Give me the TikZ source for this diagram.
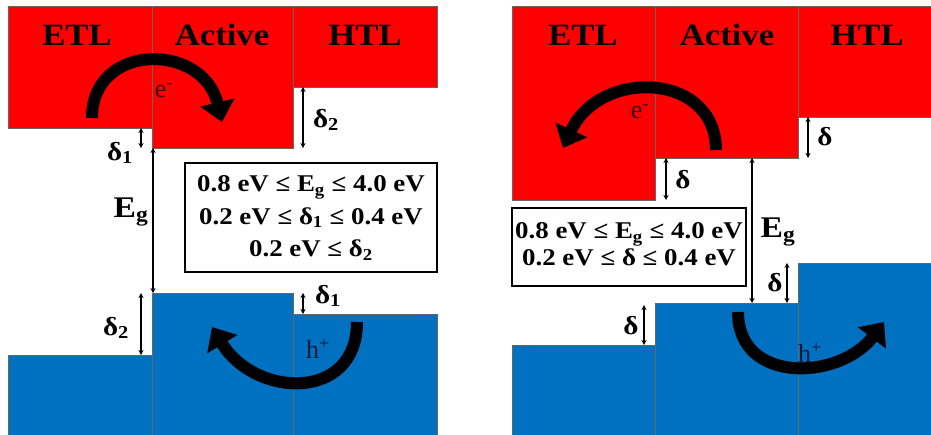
\documentclass[tikz,border=0pt]{standalone}
\usepackage{fontspec}
\setmainfont{Liberation Serif}
\usetikzlibrary{arrows.meta}
\definecolor{cbred}{RGB}{255,0,0}
\definecolor{cbblue}{RGB}{0,112,192}
\definecolor{etxt}{RGB}{50,0,0}
\definecolor{htxt}{RGB}{15,25,60}
\tikzset{
  redband/.style={fill=cbred, draw=black!60, line width=0.6pt},
  blueband/.style={fill=cbblue, draw=black!60, line width=0.6pt},
  layerlbl/.style={font=\fontsize{31}{31}\selectfont\bfseries, inner sep=0pt},
  dlbl/.style={font=\fontsize{26}{26}\selectfont\bfseries, inner sep=0pt},
  eglbl/.style={font=\fontsize{30}{30}\selectfont\bfseries, inner sep=0pt},
  carrier/.style={font=\fontsize{26}{26}\selectfont, inner sep=0pt},
  gap/.style={line width=1.2pt, {Stealth[length=5pt,width=5pt]}-{Stealth[length=5pt,width=5pt]}},
  bigarrow/.style={line width=12pt, -{Triangle[length=20pt,width=34pt]}},
  condbox/.style={draw, line width=1.6pt, fill=white, inner sep=0pt,
    font=\fontsize{24}{32.5}\selectfont\bfseries}
}
\newcommand{\hs}[1]{\scalebox{1.12}[1]{#1}}
\begin{document}
\begin{tikzpicture}[x=1pt,y=-1pt]
\useasboundingbox (0,0) rectangle (931,434);
\fill[white] (0,0) rectangle (931,434);

% ---------------- left panel ----------------
\draw[redband] (8,6) rectangle (152,128);
\draw[redband] (152,6) rectangle (293,148);
\draw[redband] (293,6) rectangle (437,87);
\draw[blueband] (8,355) rectangle (152,440);
\draw[blueband] (152,293) rectangle (293,440);
\draw[blueband] (293,314) rectangle (437,440);

\node[layerlbl] (lETL) at (77,35) {\hs{ETL}};
\node[layerlbl] (lAct) at (222,35) {\hs{Active}};
\node[layerlbl] (lHTL) at (365,35) {\hs{HTL}};

\coordinate (le0) at (92,118);
\coordinate (le1) at (222,122);
\draw[bigarrow] (le0) .. controls (92,42) and (203,42) .. (le1);
\node[carrier, text=etxt] (leLbl) at (164,91) {e\textsuperscript{-}};

\coordinate (lh0) at (357,322);
\coordinate (lh1) at (212,327);
\draw[bigarrow] (lh0) .. controls (357,402) and (255,398) .. (lh1);
\node[carrier, text=htxt] (lhLbl) at (318,349) {h\textsuperscript{+}};

\coordinate (la1) at (141,128); \coordinate (la2) at (141,148);
\draw[gap] (la1) -- (la2);
\node[dlbl] (lD1a) at (120,153) {\hs{δ\textsubscript{1}}};

\coordinate (lb1) at (153,148); \coordinate (lb2) at (153,293);
\draw[gap] (lb1) -- (lb2);
\node[eglbl] (lEg) at (131,212) {\hs{E\textsubscript{g}}};

\coordinate (lc1) at (303,87); \coordinate (lc2) at (303,148);
\draw[gap] (lc1) -- (lc2);
\node[dlbl] (lD2a) at (326,120) {\hs{δ\textsubscript{2}}};

\coordinate (ld1) at (303,293); \coordinate (ld2) at (303,314);
\draw[gap] (ld1) -- (ld2);
\node[dlbl] (lD1b) at (328,296) {\hs{δ\textsubscript{1}}};

\coordinate (lf1) at (141,293); \coordinate (lf2) at (141,355);
\draw[gap] (lf1) -- (lf2);
\node[dlbl] (lD2b) at (116,328) {\hs{δ\textsubscript{2}}};

\node[condbox, minimum width=252pt, minimum height=109pt] (lbox) at (311,217.5)
  {\hs{\begin{tabular}{@{}c@{}}0.8 eV ≤ E\textsubscript{g} ≤ 4.0 eV\\
   0.2 eV ≤ δ\textsubscript{1} ≤ 0.4 eV\\ 0.2 eV ≤ δ\textsubscript{2}\end{tabular}}};

% ---------------- right panel ----------------
\draw[redband] (512,6) rectangle (655,200);
\draw[redband] (655,6) rectangle (798,158);
\draw[redband] (798,6) rectangle (940,117);
\draw[blueband] (512,345) rectangle (655,440);
\draw[blueband] (655,303) rectangle (798,440);
\draw[blueband] (798,263) rectangle (940,440);

\node[layerlbl] (rETL) at (583,35) {\hs{ETL}};
\node[layerlbl] (rAct) at (727,35) {\hs{Active}};
\node[layerlbl] (rHTL) at (867,35) {\hs{HTL}};

\coordinate (re0) at (716,150);
\coordinate (re1) at (563,148);
\draw[bigarrow] (re0) .. controls (716,72) and (600,68) .. (re1);
\node[carrier, text=etxt] (reLbl) at (640,112) {e\textsuperscript{-}};

\coordinate (rh0) at (738,312);
\coordinate (rh1) at (884,322);
\draw[bigarrow] (rh0) .. controls (738,385) and (840,380) .. (rh1);
\node[carrier, text=htxt] (rhLbl) at (810,353) {h\textsuperscript{+}};

\coordinate (ra1) at (808,117); \coordinate (ra2) at (808,158);
\draw[gap] (ra1) -- (ra2);
\node[dlbl] (rDa) at (825,137) {\hs{δ}};

\coordinate (rb1) at (666,158); \coordinate (rb2) at (666,200);
\draw[gap] (rb1) -- (rb2);
\node[dlbl] (rDb) at (683,180) {\hs{δ}};

\coordinate (rc1) at (752,158); \coordinate (rc2) at (752,303);
\draw[gap] (rc1) -- (rc2);
\node[eglbl] (rEg) at (778,232) {\hs{E\textsubscript{g}}};

\coordinate (rd1) at (787,263); \coordinate (rd2) at (787,303);
\draw[gap] (rd1) -- (rd2);
\node[dlbl] (rDc) at (775,283) {\hs{δ}};

\coordinate (rf1) at (644,305); \coordinate (rf2) at (644,345);
\draw[gap] (rf1) -- (rf2);
\node[dlbl] (rDd) at (631,326) {\hs{δ}};

\node[condbox, minimum width=234pt, minimum height=78pt] (rbox) at (629,247)
  {\fontsize{24}{27}\selectfont\hs{\begin{tabular}{@{}c@{}}0.8 eV ≤ E\textsubscript{g} ≤ 4.0 eV\\
   0.2 eV ≤ δ ≤ 0.4 eV\end{tabular}}};
\end{tikzpicture}
\end{document}
